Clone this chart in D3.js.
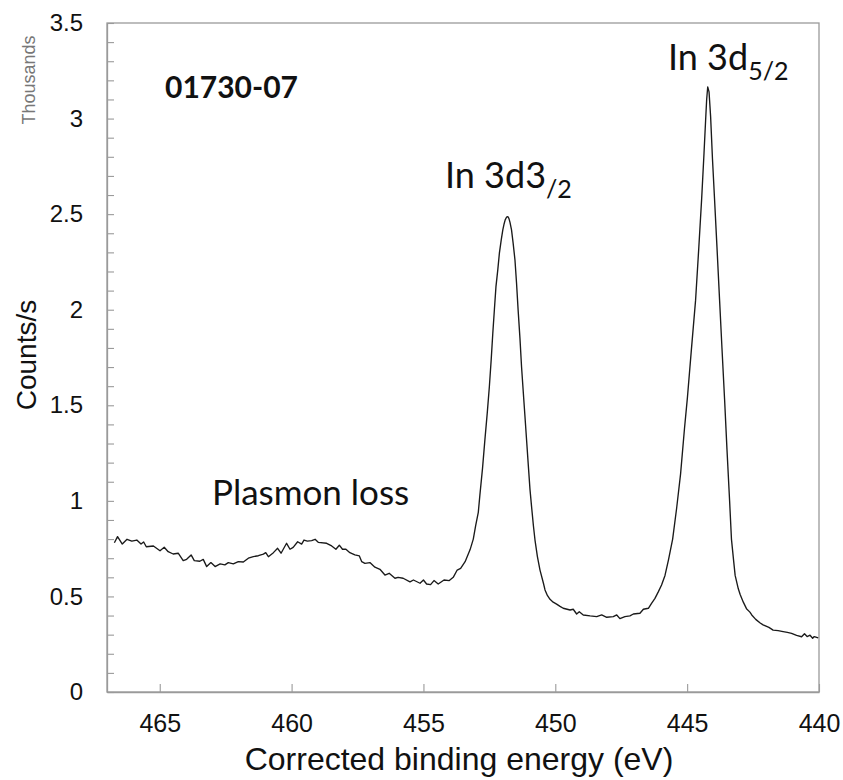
<!DOCTYPE html>
<html>
<head>
<meta charset="utf-8">
<script src="https://cdn.jsdelivr.net/npm/d3@7"></script>
<style>
  html, body { margin: 0; padding: 0; background: #fff; }
  svg { display: block; }
</style>
</head>
<body>
<div id="chart"></div>
<script>
// ---- Data (binding energy in eV, counts/s in thousands) ----
const energy = [
  466.72,466.60,466.42,466.24,466.06,465.87,465.71,465.61,465.51,465.24,
  464.99,464.83,464.68,464.49,464.30,464.11,463.98,463.81,463.69,463.48,
  463.35,463.22,463.06,462.90,462.71,462.53,462.40,462.21,462.02,461.83,
  461.64,461.45,461.26,461.07,460.98,460.88,460.69,460.53,460.40,460.19,
  460.06,459.94,459.77,459.62,459.53,459.40,459.24,459.11,458.99,458.67,
  458.48,458.32,458.19,458.07,457.94,457.79,457.60,457.43,457.34,457.22,
  457.03,456.84,456.65,456.46,456.30,456.08,455.96,455.77,455.51,455.38,
  455.13,455.00,454.88,454.73,454.60,454.44,454.22,454.02,453.87,453.72,
  453.59,453.42,453.23,453.11,453.02,452.92,452.86,452.76,452.67,452.58,
  452.50,452.43,452.37,452.31,452.25,452.18,452.12,452.05,451.99,451.94,
  451.90,451.85,451.80,451.76,451.72,451.66,451.60,451.53,451.47,451.41,
  451.34,451.28,451.21,451.15,451.08,451.02,450.96,450.90,450.83,450.77,
  450.68,450.58,450.45,450.39,450.30,450.20,450.08,449.95,449.82,449.70,
  449.44,449.32,449.19,449.09,448.94,448.68,448.43,448.24,448.05,447.80,
  447.67,447.55,447.36,447.17,447.04,446.79,446.66,446.47,446.35,446.22,
  446.09,445.97,445.84,445.71,445.55,445.40,445.25,445.10,444.99,444.84,
  444.68,444.56,444.45,444.36,444.30,444.26,444.22,444.17,444.11,444.04,
  443.96,443.87,443.77,443.68,443.58,443.49,443.39,443.32,443.24,443.18,
  443.06,442.99,442.87,442.75,442.62,442.55,442.40,442.23,442.12,441.90,
  441.74,441.55,441.36,441.20,441.04,440.85,440.66,440.55,440.45,440.34,
  440.24,440.18,440.03
];
const counts = [
  0.781,0.813,0.774,0.799,0.789,0.795,0.774,0.785,0.760,0.764,
  0.739,0.757,0.734,0.722,0.726,0.687,0.694,0.717,0.687,0.684,
  0.694,0.656,0.677,0.656,0.670,0.665,0.677,0.670,0.682,0.680,
  0.700,0.708,0.713,0.721,0.729,0.708,0.729,0.752,0.726,0.778,
  0.747,0.757,0.786,0.774,0.795,0.789,0.792,0.799,0.783,0.778,
  0.764,0.747,0.768,0.747,0.747,0.729,0.717,0.712,0.682,0.673,
  0.677,0.653,0.642,0.612,0.621,0.595,0.600,0.595,0.576,0.586,
  0.569,0.586,0.565,0.562,0.583,0.565,0.586,0.583,0.600,0.638,
  0.647,0.682,0.745,0.800,0.870,0.940,1.030,1.170,1.319,1.460,
  1.598,1.740,1.877,2.000,2.121,2.210,2.296,2.365,2.418,2.450,
  2.470,2.484,2.487,2.478,2.458,2.418,2.350,2.261,2.140,1.999,
  1.850,1.702,1.560,1.441,1.300,1.179,1.060,0.970,0.870,0.795,
  0.710,0.638,0.569,0.534,0.505,0.485,0.470,0.460,0.448,0.438,
  0.429,0.433,0.408,0.420,0.403,0.398,0.394,0.403,0.391,0.394,
  0.403,0.384,0.394,0.398,0.408,0.412,0.433,0.438,0.464,0.490,
  0.525,0.560,0.610,0.690,0.800,0.960,1.140,1.380,1.540,1.790,
  2.050,2.320,2.580,2.820,2.990,3.100,3.165,3.140,3.010,2.790,
  2.575,2.330,2.050,1.800,1.530,1.270,1.000,0.800,0.690,0.610,
  0.540,0.510,0.470,0.436,0.418,0.403,0.380,0.361,0.351,0.338,
  0.324,0.321,0.316,0.312,0.307,0.296,0.289,0.305,0.290,0.297,
  0.281,0.290,0.283
];
const xTicks = [465, 460, 455, 450, 445, 440];
const yTicks = [0, 0.5, 1, 1.5, 2, 2.5, 3, 3.5];
const xDomain = [467, 440];
const yDomain = [0, 3.5];
const xTitle = "Corrected binding energy (eV)";
const yTitle = "Counts/s";
const yUnit = "Thousands";
const sampleLabel = "01730-07";
const annotations = [
  { text: "Plasmon loss", main: "Plasmon loss", sub: "" },
  { text: "In 3d3/2", main: "In 3d3", sub: "/2" },
  { text: "In 3d5/2", main: "In 3d", sub: "5/2" }
];

// ---- Layout ----
const W = 843, H = 780;
const m = { left: 107, right: 24, top: 23, bottom: 88 };
const iw = W - m.left - m.right, ih = H - m.top - m.bottom;
const axisColor = "#9a9a9a";

const svg = d3.select("#chart").append("svg")
  .attr("width", W).attr("height", H);

const x = d3.scaleLinear().domain(xDomain).range([0, iw]);
const y = d3.scaleLinear().domain(yDomain).range([ih, 0]);

const g = svg.append("g").attr("transform", `translate(${m.left},${m.top})`);

// frame
g.append("rect").attr("x", 0).attr("y", 0).attr("width", iw).attr("height", ih)
  .attr("fill", "none").attr("stroke", axisColor).attr("stroke-width", 1.3);

// y axis (minor every 0.1, labels at 0.5)
const yMinor = d3.range(0, 36).map(i => i / 10);
const yAxis = d3.axisLeft(y).tickValues(yMinor).tickSizeInner(-7).tickSizeOuter(0)
  .tickPadding(24)
  .tickFormat(d => {
    const hit = yTicks.find(t => Math.abs(t - d) < 1e-6);
    return hit === undefined ? "" : d3.format("")(hit);
  });
const gy = g.append("g").call(yAxis);
gy.select(".domain").attr("stroke", axisColor).attr("stroke-width", 1.3);
gy.selectAll(".tick line").attr("stroke", axisColor).attr("stroke-width", 1.1);
gy.selectAll(".tick text").attr("font-family", "'Liberation Sans', Arial, sans-serif")
  .attr("font-size", 24).attr("fill", "#111");

// x axis
const xAxis = d3.axisBottom(x).tickValues(xTicks).tickSizeInner(-8).tickSizeOuter(0)
  .tickPadding(22).tickFormat(d3.format("d"));
const gx = g.append("g").attr("transform", `translate(0,${ih})`).call(xAxis);
gx.select(".domain").attr("stroke", axisColor).attr("stroke-width", 1.3);
gx.selectAll(".tick line").attr("stroke", axisColor).attr("stroke-width", 1.1);
gx.selectAll(".tick text").attr("font-family", "'Liberation Sans', Arial, sans-serif")
  .attr("font-size", 25).attr("fill", "#111");

// spectrum line
const pts = energy.map((e, i) => [e, counts[i]]);
const line = d3.line().x(d => x(d[0])).y(d => y(d[1]));
g.append("path").datum(pts).attr("d", line)
  .attr("fill", "none").attr("stroke", "#1a1a1a").attr("stroke-width", 1.35)
  .attr("stroke-linejoin", "round");

// axis titles
svg.append("text").attr("x", m.left + iw / 2 - 4).attr("y", 770)
  .attr("text-anchor", "middle").attr("font-family", "'Liberation Sans', Arial, sans-serif")
  .attr("font-size", 32).attr("fill", "#111").text(xTitle);

svg.append("text").attr("transform", "translate(36,355) rotate(-90)")
  .attr("text-anchor", "middle").attr("font-family", "'Liberation Sans', Arial, sans-serif")
  .attr("font-size", 28).attr("fill", "#111").text(yTitle);

svg.append("text").attr("transform", "translate(35,80) rotate(-90)")
  .attr("text-anchor", "middle").attr("font-family", "'Liberation Sans', Arial, sans-serif")
  .attr("font-size", 18).attr("fill", "#777").text(yUnit);

// sample label
svg.append("text").attr("x", 165).attr("y", 98)
  .attr("font-family", "Lato, 'Open Sans', sans-serif").attr("font-weight", "bold")
  .attr("font-size", 30).attr("fill", "#111").text(sampleLabel);

// annotations
const annPos = [[212, 505], [445, 188], [668, 70]];
annotations.forEach((a, i) => {
  const t = svg.append("text").attr("x", annPos[i][0]).attr("y", annPos[i][1])
    .attr("font-family", "Lato, 'Open Sans', sans-serif")
    .attr("font-size", i === 0 ? 35 : 36).attr("fill", "#111");
  t.append("tspan").text(a.main);
  if (a.sub) t.append("tspan").attr("dy", 10).attr("font-size", 25).text(a.sub);
});
</script>
</body>
</html>
